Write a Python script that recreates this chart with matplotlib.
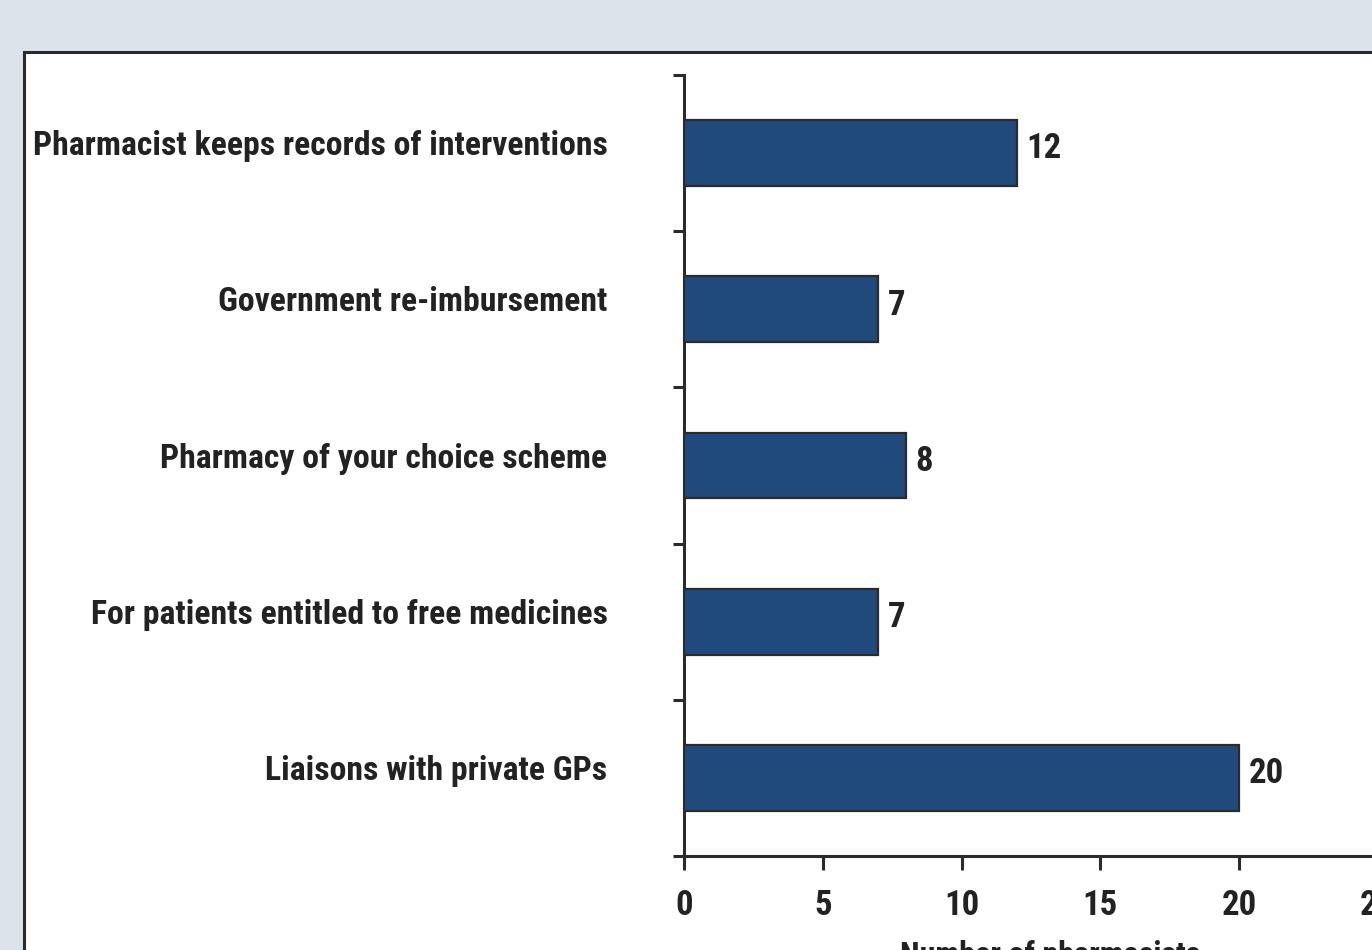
import matplotlib
matplotlib.use("Agg")
import matplotlib.pyplot as plt
from matplotlib.patches import Rectangle
from matplotlib.ticker import FixedLocator, NullFormatter
from matplotlib.transforms import blended_transform_factory, offset_copy

# Data
categories = [
    "Pharmacist keeps records of interventions",
    "Government re-imbursement",
    "Pharmacy of your choice scheme",
    "For patients entitled to free medicines",
    "Liaisons with private GPs",
]
counts = [12, 7, 8, 7, 20]
x_ticks = [0, 5, 10, 15, 20, 25]
x_label = "Number of pharmacists"

FONT = ["Roboto Condensed", "DejaVu Sans"]
BG = "#dce3eb"
BAR = "#214a7c"
INK = "#222222"
LINE = "#2b2b2b"

W, H = 1372, 950
fig = plt.figure(figsize=(W / 100, H / 100), dpi=100, facecolor=BG)

# White panel with dark frame, behind the axes
panel = Rectangle((24 / W, -0.2), 2.0, (H - 52) / H + 0.2,
                  transform=fig.transFigure, facecolor="white",
                  edgecolor=LINE, linewidth=2.2, zorder=-5)
fig.patches.append(panel)

ax_left, ax_bottom = 684 / W, (H - 856) / H
ax_w = (25 * 27.75) / W
ax_h = (856 - 75) / H
ax = fig.add_axes([ax_left, ax_bottom, ax_w, ax_h])
ax.set_facecolor("none")

pos = list(range(len(categories)))
ax.barh(pos, counts, height=0.42, color=BAR, edgecolor=LINE,
        linewidth=1.6, zorder=3)

for p, v in zip(pos, counts):
    ax.annotate(str(v), xy=(v, p), xytext=(7, 3), textcoords="offset points",
                ha="left", va="center", fontsize=25, fontweight="bold",
                family=FONT, color=INK)

ax.set_xlim(0, 25)
ax.set_ylim(len(categories) - 0.5, -0.5)

ax.set_xticks(x_ticks)
ax.set_xticklabels([str(t) for t in x_ticks], fontsize=25, fontweight="bold",
                   family=FONT, color=INK)
ax.tick_params(axis="x", direction="out", length=10, width=2.2,
               color=LINE, pad=14)

# Category labels sit slightly above each bar's centre line
ax.set_yticks(pos)
ax.yaxis.set_major_formatter(NullFormatter())
ax.tick_params(axis="y", which="major", length=0)
label_tf = offset_copy(blended_transform_factory(ax.transAxes, ax.transData),
                       fig=fig, x=-55, y=5, units="points")
for p, name in zip(pos, categories):
    ax.text(0, p, name, transform=label_tf, ha="right", va="center",
            fontsize=24.3, fontweight="bold", family=FONT, color=INK,
            clip_on=False)

ax.yaxis.set_minor_locator(FixedLocator([i - 0.5 for i in range(len(categories) + 1)]))
ax.tick_params(axis="y", which="minor", direction="out", length=8,
               width=2.2, color=LINE)

for s in ("top", "right"):
    ax.spines[s].set_visible(False)
for s in ("left", "bottom"):
    ax.spines[s].set_color(LINE)
    ax.spines[s].set_linewidth(2.2)

fig.text(1050 / W, 1 - 940 / H, x_label, ha="center", va="top",
         fontsize=23, fontweight="bold", family=FONT, color=INK)

fig.savefig("out.png", dpi=100, facecolor=BG)
